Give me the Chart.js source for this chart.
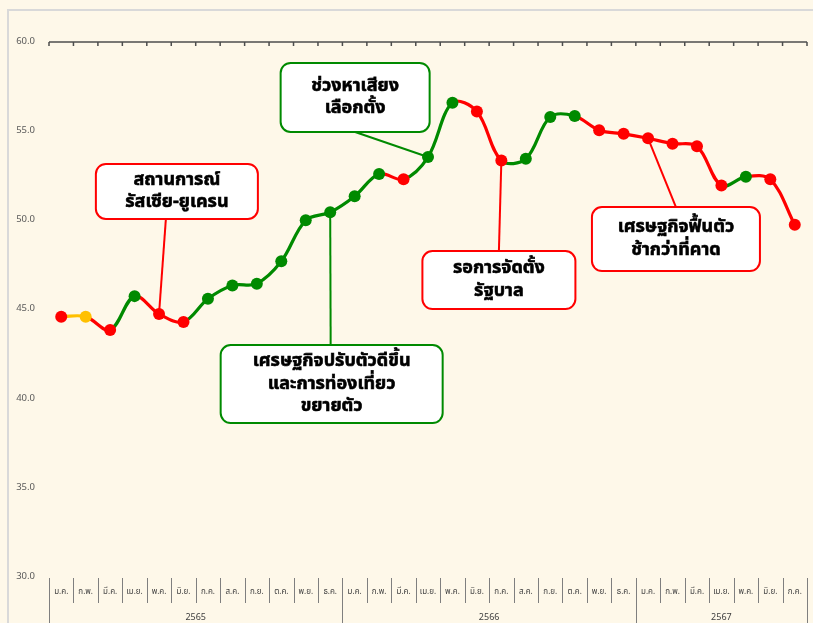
<!DOCTYPE html>
<html lang="th">
<head>
<meta charset="UTF-8">
<title>ดัชนีรายเดือน 2565-2567</title>
<script src="https://cdn.jsdelivr.net/npm/chart.js"></script>
<style>
    body {
        margin: 0;
        padding: 0;
        background: #fef8e9;
        overflow: hidden;
    }
    #chart {
        display: block;
    }
</style>
</head>
<body>
<canvas id="chart" width="813" height="623"></canvas>
<script>
    // ข้อมูล
    const months = ['ม.ค.', 'ก.พ.', 'มี.ค.', 'เม.ย.', 'พ.ค.', 'มิ.ย.', 'ก.ค.', 'ส.ค.', 'ก.ย.', 'ต.ค.', 'พ.ย.', 'ธ.ค.',
                    'ม.ค.', 'ก.พ.', 'มี.ค.', 'เม.ย.', 'พ.ค.', 'มิ.ย.', 'ก.ค.', 'ส.ค.', 'ก.ย.', 'ต.ค.', 'พ.ย.', 'ธ.ค.',
                    'ม.ค.', 'ก.พ.', 'มี.ค.', 'เม.ย.', 'พ.ค.', 'มิ.ย.', 'ก.ค.'];
    const years = ['2565', '2566', '2567'];
    const monthsPerYear = [12, 12, 7];
    const values = [44.6, 44.6, 43.85, 45.75, 44.75, 44.3, 45.6, 46.35, 46.45, 47.7, 50.0, 50.45,
                    51.35, 52.6, 52.3, 53.55, 56.6, 56.1, 53.35, 53.45, 55.8, 55.85, 55.05, 54.85,
                    54.6, 54.3, 54.15, 51.95, 52.45, 52.3, 49.75];
    const yTicks = [30, 35, 40, 45, 50, 55, 60];

    const GREEN = '#008a00';
    const RED = '#ff0000';
    const YELLOW = '#ffc000';
    const thaiFont = '"Noto Sans Thai", "Leelawadee UI", Tahoma, "Noto Sans", sans-serif';

    function changeColor(i) {
        if (i === 0) return RED;
        if (values[i] > values[i - 1]) return GREEN;
        if (values[i] < values[i - 1]) return RED;
        return YELLOW;
    }
    const pointColors = values.map((v, i) => changeColor(i));

    // กล่องข้อความ
    const callouts = [
        { lines: ['สถานการณ์', 'รัสเซีย-ยูเครน'], color: RED, point: 4, cx: 4.73, cy: 51.62, w: 162, h: 55, edge: 'bottom', dx: -11 },
        { lines: ['ช่วงหาเสียง', 'เลือกตั้ง'], color: GREEN, point: 15, cx: 12.02, cy: 56.89, w: 149, h: 69, edge: 'bottom', dx: 0 },
        { lines: ['เศรษฐกิจปรับตัวดีขึ้น', 'และการท่องเที่ยว', 'ขยายตัว'], color: GREEN, point: 11, cx: 11.06, cy: 40.82, w: 222, h: 78, edge: 'top', dx: -1 },
        { lines: ['รอการจัดตั้ง', 'รัฐบาล'], color: RED, point: 18, cx: 17.9, cy: 46.65, w: 153, h: 58, edge: 'top', dx: 0 },
        { lines: ['เศรษฐกิจฟื้นตัว', 'ช้ากว่าที่คาด'], color: RED, point: 24, cx: 25.14, cy: 48.95, w: 168, h: 64, edge: 'top', dx: 0 }
    ];

    function boxRect(chart, c) {
        const x = chart.scales.x.getPixelForValue(c.cx);
        const y = chart.scales.y.getPixelForValue(c.cy);
        return { left: x - c.w / 2, top: y - c.h / 2, cx: x, cy: y };
    }

    const decor = {
        id: 'decor',
        beforeDraw(chart) {
            const ctx = chart.ctx;
            ctx.save();
            ctx.strokeStyle = '#d9d9d9';
            ctx.lineWidth = 2;
            ctx.beginPath();
            ctx.moveTo(8, chart.height);
            ctx.lineTo(8, 10);
            ctx.lineTo(chart.width, 10);
            ctx.stroke();
            ctx.restore();
        },
        beforeDatasetsDraw(chart) {
            const ctx = chart.ctx;
            const xs = chart.scales.x, ys = chart.scales.y;
            ctx.save();
            ctx.lineWidth = 2;
            callouts.forEach(c => {
                const r = boxRect(chart, c);
                const px = xs.getPixelForValue(c.point);
                const py = ys.getPixelForValue(values[c.point]);
                const ey = c.edge === 'top' ? r.top : r.top + c.h;
                ctx.strokeStyle = c.color;
                ctx.beginPath();
                ctx.moveTo(px, py);
                ctx.lineTo(r.cx + c.dx, ey);
                ctx.stroke();
            });
            ctx.restore();
        },
        afterDatasetsDraw(chart) {
            const ctx = chart.ctx;
            ctx.save();
            callouts.forEach(c => {
                const r = boxRect(chart, c);
                ctx.beginPath();
                ctx.roundRect(r.left, r.top, c.w, c.h, 10);
                ctx.fillStyle = '#ffffff';
                ctx.fill();
                ctx.lineWidth = 2;
                ctx.strokeStyle = c.color;
                ctx.stroke();
                ctx.fillStyle = '#000000';
                ctx.strokeStyle = '#000000';
                ctx.lineWidth = 0.6;
                ctx.font = 'bold 18px ' + thaiFont;
                ctx.textAlign = 'center';
                ctx.textBaseline = 'middle';
                const lh = 22.5;
                const y0 = r.cy - (c.lines.length - 1) * lh / 2 + 1;
                c.lines.forEach((t, i) => {
                    ctx.fillText(t, r.cx, y0 + i * lh);
                    ctx.strokeText(t, r.cx, y0 + i * lh);
                });
            });
            ctx.restore();
        },
        afterDraw(chart) {
            const ctx = chart.ctx;
            const area = chart.chartArea;
            const xs = chart.scales.x;
            const step = (area.right - area.left) / months.length;
            ctx.save();
            // แกนด้านบน
            ctx.strokeStyle = '#4d4d4d';
            ctx.lineWidth = 1.5;
            ctx.beginPath();
            ctx.moveTo(area.left, area.top);
            ctx.lineTo(area.right, area.top);
            for (let i = 0; i <= months.length; i++) {
                const x = area.left + i * step;
                ctx.moveTo(x, area.top);
                ctx.lineTo(x, area.top + 4);
            }
            ctx.stroke();

            // ป้ายเดือน
            ctx.lineWidth = 1;
            ctx.strokeStyle = '#7f7f7f';
            ctx.beginPath();
            for (let i = 0; i <= months.length; i++) {
                const x = Math.round(area.left + i * step) + 0.5;
                ctx.moveTo(x, area.bottom + 1);
                ctx.lineTo(x, area.bottom + 26);
            }
            let start = 0;
            const bounds = [0];
            monthsPerYear.forEach(n => { start += n; bounds.push(start); });
            bounds.forEach(b => {
                const x = Math.round(area.left + b * step) + 0.5;
                ctx.moveTo(x, area.bottom + 1);
                ctx.lineTo(x, chart.height);
            });
            ctx.stroke();

            ctx.fillStyle = '#404040';
            ctx.textAlign = 'center';
            ctx.textBaseline = 'middle';
            ctx.font = '8px ' + thaiFont;
            months.forEach((m, i) => ctx.fillText(m, xs.getPixelForValue(i), area.bottom + 15));
            ctx.font = '9px ' + thaiFont;
            years.forEach((yr, i) => {
                const mid = (bounds[i] + bounds[i + 1]) / 2;
                ctx.fillText(yr, area.left + mid * step, area.bottom + 41);
            });
            ctx.restore();
        }
    };

    const ctx = document.getElementById('chart').getContext('2d');
    const chart = new Chart(ctx, {
        type: 'line',
        data: {
            labels: months,
            datasets: [{
                data: values,
                borderWidth: 3.2,
                tension: 0.35,
                pointRadius: 6,
                pointHoverRadius: 6,
                pointBorderWidth: 0,
                pointBackgroundColor: pointColors,
                pointBorderColor: pointColors,
                segment: {
                    borderColor: s => pointColors[s.p1DataIndex]
                }
            }]
        },
        options: {
            responsive: false,
            animation: false,
            layout: { padding: { top: 42, bottom: 46, right: 5, left: 0 } },
            plugins: {
                legend: { display: false },
                tooltip: { enabled: false }
            },
            scales: {
                x: {
                    display: false,
                    offset: true
                },
                y: {
                    min: 30,
                    max: 60,
                    afterFit: s => { s.width = 49; },
                    afterBuildTicks: s => { s.ticks = yTicks.map(v => ({ value: v })); },
                    grid: { display: false, drawTicks: false },
                    border: { display: false },
                    ticks: {
                        padding: 14,
                        color: '#595959',
                        font: { size: 9.5, family: thaiFont },
                        callback: v => v.toFixed(1)
                    }
                }
            }
        },
        plugins: [decor]
    });
</script>
</body>
</html>
